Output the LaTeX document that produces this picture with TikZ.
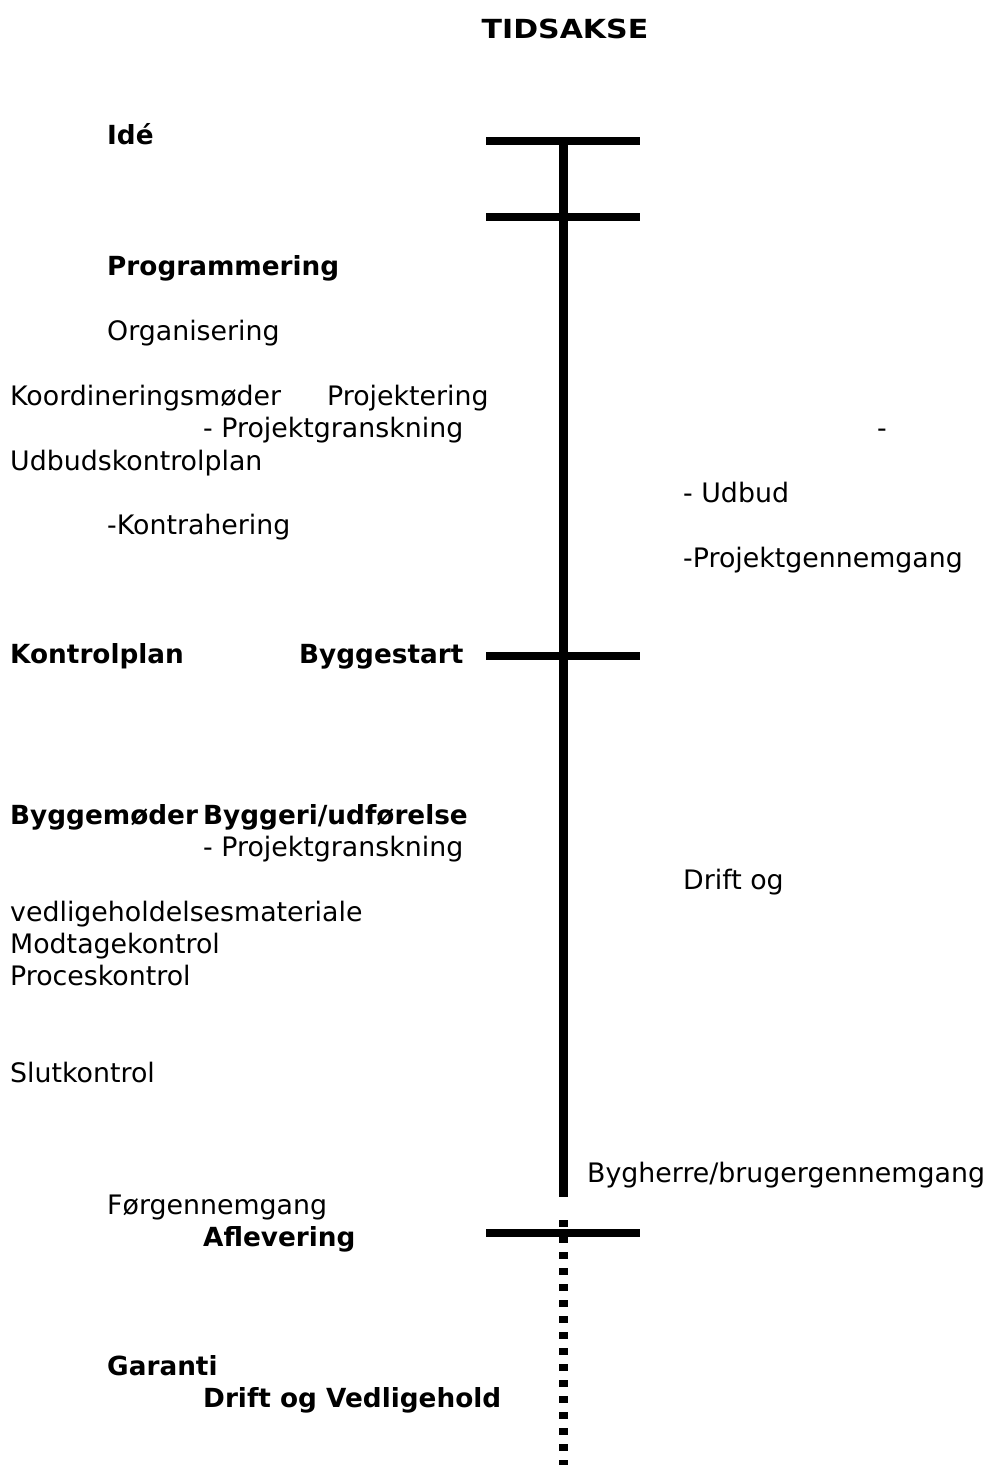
\documentclass[tikz,border=0pt]{standalone}
\usepackage{fontspec}
\setmainfont{DejaVu Sans}
\begin{document}
\begin{tikzpicture}[x=1pt,y=-1pt,
  lbl/.style={anchor=base west,inner sep=0pt,font=\fontsize{26.8}{32}\selectfont},
  blbl/.style={lbl,font=\fontsize{26.3}{32}\selectfont\bfseries},
  axis/.style={line width=8.5pt},
  tick/.style={line width=8.5pt},
  future/.style={line width=8.5pt,dash pattern=on 7pt off 9pt}]
\useasboundingbox (0,0) rectangle (987,1465);
% title
\node[blbl,anchor=base] (title) at (565,38) {\scalebox{1.14}[1]{TIDSAKSE}};
% axis
\coordinate (top) at (563.5,141);
\coordinate (solidend) at (563.5,1197);
\coordinate (dotstart) at (563.5,1220);
\coordinate (bottom) at (563.5,1465);
\draw[axis] (top) -- (solidend);
\draw[future] (dotstart) -- (bottom);
% ticks
\coordinate (t1a) at (486,141); \coordinate (t1b) at (640,141);
\coordinate (t2a) at (486,217); \coordinate (t2b) at (640,217);
\coordinate (t3a) at (486,656); \coordinate (t3b) at (640,656);
\coordinate (t4a) at (486,1233); \coordinate (t4b) at (640,1233);
\draw[tick] (t1a) -- (t1b);
\draw[tick] (t2a) -- (t2b);
\draw[tick] (t3a) -- (t3b);
\draw[tick] (t4a) -- (t4b);
% texts
\node[blbl] (ide) at (107,144) {Idé};
\node[blbl] (prog) at (107,275) {Programmering};
\node[lbl] (org) at (107,340) {Organisering};
\node[lbl] (koord) at (10,405) {Koordineringsmøder};
\node[lbl] (proj) at (327,405) {Projektering};
\node[lbl] (gran1) at (203,437) {- Projektgranskning};
\node[lbl] (dash) at (877,437) {-};
\node[lbl] (udbk) at (10,470) {Udbudskontrolplan};
\node[lbl] (udbud) at (683,502) {- Udbud};
\node[lbl] (kontra) at (107,534) {-Kontrahering};
\node[lbl] (pgen) at (683,567) {-Projektgennemgang};
\node[blbl] (kplan) at (10,663) {Kontrolplan};
\node[blbl] (bstart) at (299,663) {Byggestart};
\node[blbl] (bmoder) at (10,824) {Byggemøder};
\node[blbl] (budf) at (203,824) {Byggeri/udførelse};
\node[lbl] (gran2) at (203,856) {- Projektgranskning};
\node[lbl] (drift) at (683,889) {Drift og};
\node[lbl] (vedl) at (10,921) {vedligeholdelsesmateriale};
\node[lbl] (modt) at (10,953) {Modtagekontrol};
\node[lbl] (proc) at (10,985) {Proceskontrol};
\node[lbl] (slut) at (10,1082) {Slutkontrol};
\node[lbl] (bygh) at (587,1182) {Bygherre/brugergennemgang};
\node[lbl] (forg) at (107,1214) {Førgennemgang};
\node[blbl] (afl) at (203,1246) {Aflevering};
\node[blbl] (gar) at (107,1375) {Garanti};
\node[blbl] (dv) at (203,1407) {Drift og Vedligehold};
\end{tikzpicture}
\end{document}
